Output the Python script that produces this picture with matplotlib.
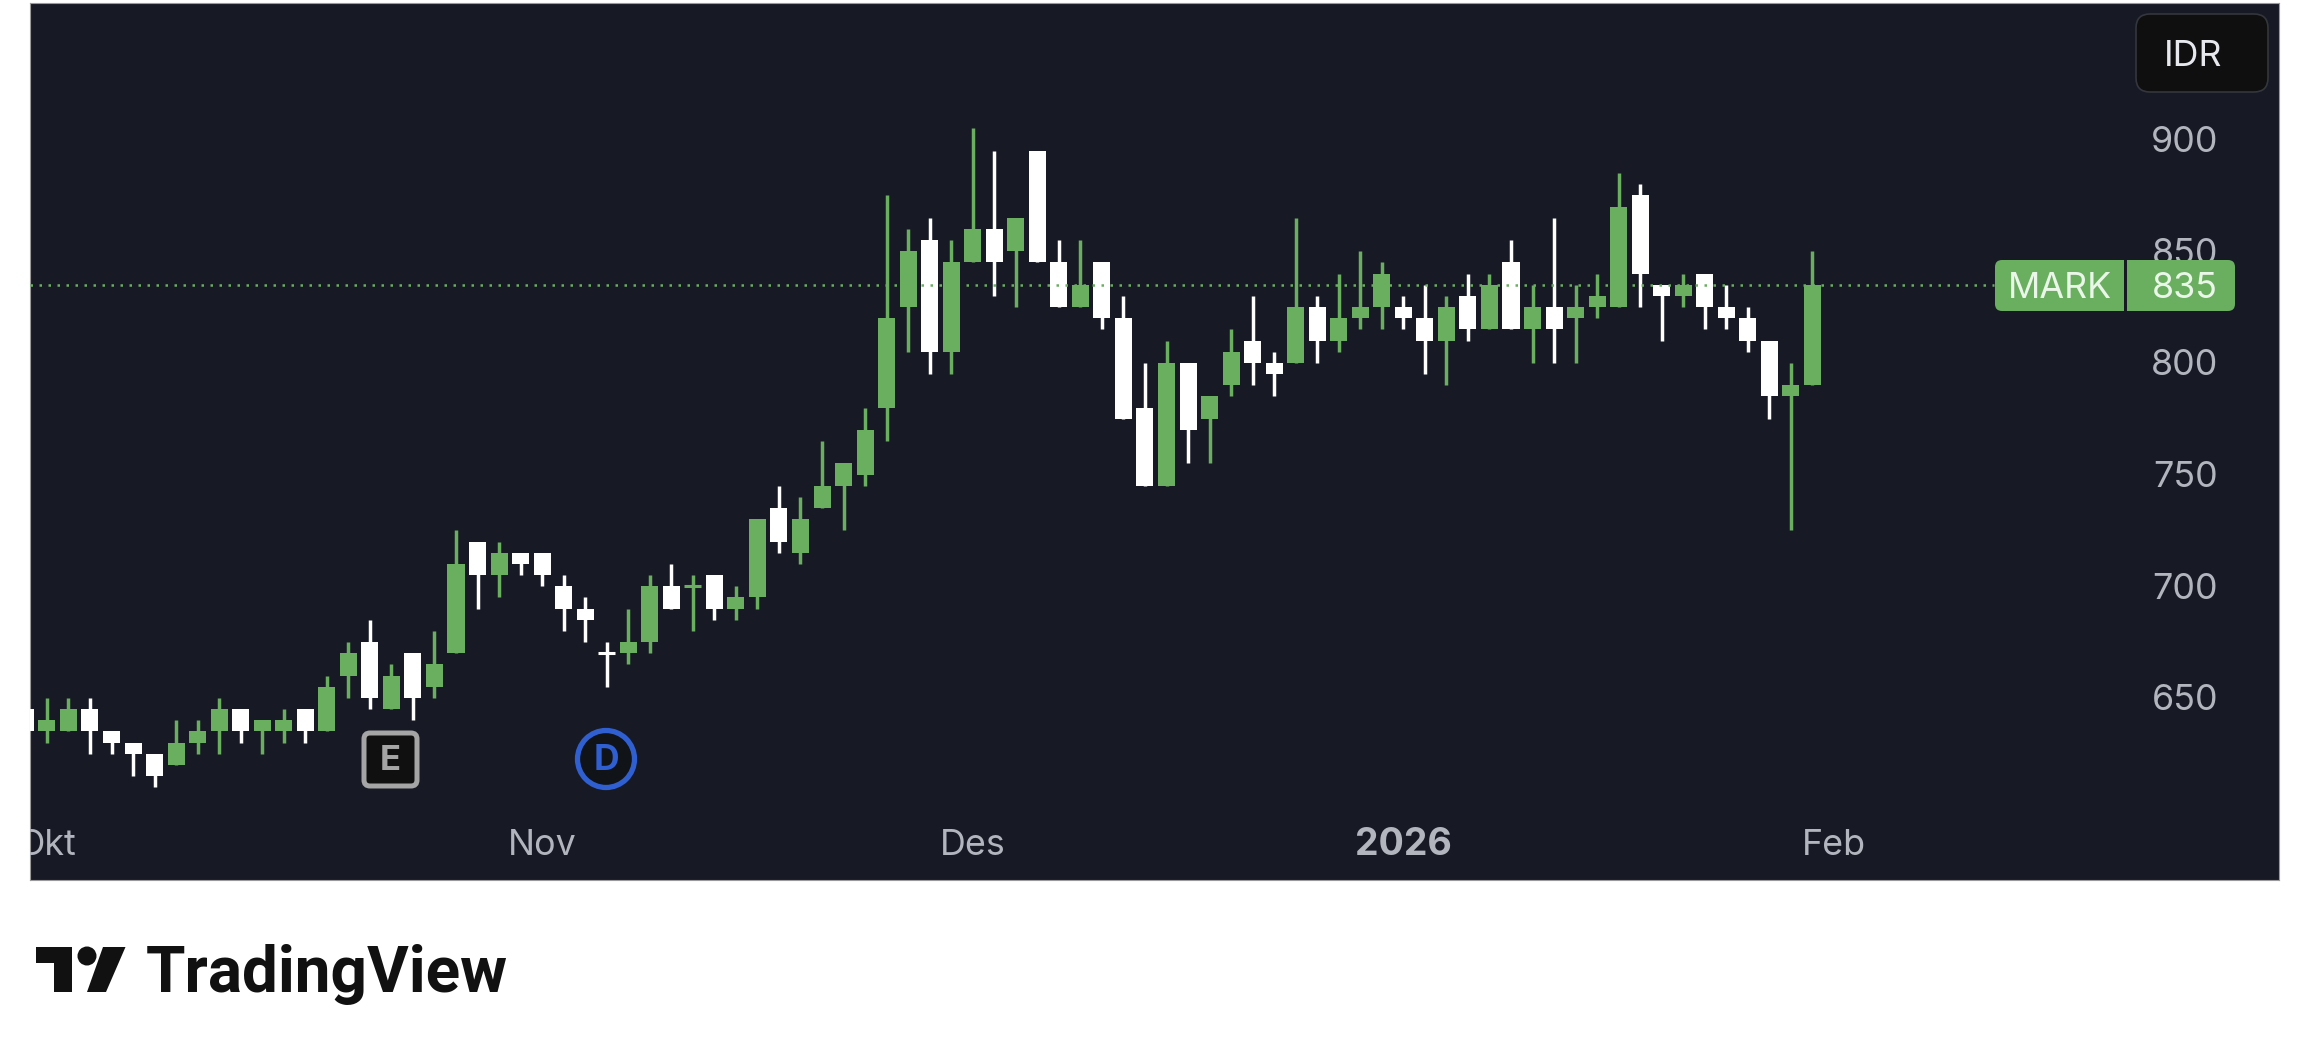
import numpy as np
from matplotlib import pyplot as plt
from matplotlib.patches import FancyBboxPatch, Circle, Polygon, Rectangle
from matplotlib.transforms import offset_copy

# daily candles, first one is cut off by the left edge
opens = [645, 635, 635, 645, 635, 630, 625, 620, 630, 635, 645, 635, 635, 645, 635, 660, 675, 645, 670, 655, 670,
         720, 705, 715, 715, 700, 690, 670, 670, 675, 700, 700, 705, 690, 695, 735, 715, 735, 745, 750, 780,
         825, 855, 805, 845, 860, 850, 895, 845, 825, 845, 820, 780, 745, 800, 775, 790, 810, 800, 800, 825,
         810, 820, 825, 825, 820, 810, 830, 815, 845, 815, 825, 820, 825, 825, 875, 835, 830, 840, 825, 820,
         810, 785, 790]
closes = [635, 640, 645, 635, 630, 625, 615, 630, 635, 645, 635, 640, 640, 635, 655, 670, 650, 660, 650, 665, 710,
          705, 715, 710, 705, 690, 685, 670, 675, 700, 690, 700, 690, 695, 730, 720, 730, 745, 755, 770, 820,
          850, 805, 845, 860, 845, 865, 845, 825, 835, 820, 775, 745, 800, 770, 785, 805, 800, 795, 825, 810,
          820, 825, 840, 820, 810, 825, 815, 835, 815, 825, 815, 825, 830, 870, 840, 830, 835, 825, 820, 810,
          785, 790, 835]
highs = [645, 650, 650, 650, 635, 630, 625, 640, 640, 650, 645, 640, 645, 645, 660, 675, 685, 665, 670, 680, 725,
         720, 720, 715, 715, 705, 695, 675, 690, 705, 710, 705, 705, 700, 730, 745, 740, 765, 755, 780, 875,
         860, 865, 855, 905, 895, 865, 895, 855, 855, 845, 830, 800, 810, 800, 785, 815, 830, 805, 865, 830,
         840, 850, 845, 830, 835, 830, 840, 840, 855, 835, 865, 835, 840, 885, 880, 835, 840, 840, 835, 825,
         810, 800, 850]
lows = [635, 630, 635, 625, 625, 615, 610, 620, 625, 625, 630, 625, 630, 630, 635, 650, 645, 645, 640, 650, 670,
        690, 695, 705, 700, 680, 675, 655, 665, 670, 690, 680, 685, 685, 690, 715, 710, 735, 725, 745, 765,
        805, 795, 795, 845, 830, 825, 845, 825, 825, 815, 775, 745, 745, 755, 755, 785, 790, 785, 800, 800,
        805, 815, 815, 815, 795, 790, 810, 815, 815, 800, 800, 800, 820, 825, 825, 810, 825, 815, 815, 805,
        775, 725, 790]
green_dojis = [31]

price_ticks = [650, 700, 750, 800, 850, 900]
time_ticks = [1, 24, 44, 64, 84]
time_labels = ['Okt', 'Nov', 'Des', '2026', 'Feb']
last_price = 835

BG = '#171A25'
GREEN = '#6AAE60'
GREY = '#B2B5BE'
plt.rcParams['font.family'] = ['Inter', 'DejaVu Sans']

W, H = 2310, 1061
fig = plt.figure(figsize=(W / 100, H / 100), dpi=100, facecolor='white')
left, right, top, bottom = 30, 2279, 3, 880
ax = fig.add_axes([left / W, 1 - bottom / H, (right - left) / W, (bottom - top) / H], facecolor=BG)
ax.set_xlim(0.214, 104.67)
ax.set_ylim(568.5, 961.1)
ax.set_xticks([])
ax.set_yticks([])
for s in ax.spines.values():
    s.set_color('#9A9A9A')
    s.set_linewidth(0.8)

x = np.arange(len(opens))
opens = np.array(opens)
closes = np.array(closes)
is_up = closes > opens
is_up[green_dojis] = True
colors = np.where(is_up, GREEN, 'white')

ax.vlines(x, lows, highs, colors=colors, linewidth=2.5, zorder=2)
ax.bar(x, closes - opens, bottom=opens, width=0.79, color=colors, linewidth=0, zorder=3)
flat = opens == closes
ax.hlines(opens[flat], x[flat] - 0.395, x[flat] + 0.395, colors=colors[flat], linewidth=2.2, zorder=3)

# price line stops at the tag
ax.plot([ax.get_xlim()[0], 91.45], [last_price, last_price], color=GREEN, linewidth=1.8,
        linestyle=(0, (1.0, 2.6)), zorder=4)

ytrans = offset_copy(ax.get_yaxis_transform(), fig, y=-3, units='dots')
for p in price_ticks:
    ax.text(0.973, p, str(p), transform=ytrans, ha='right', va='center',
            fontsize=25.8, color=GREY, zorder=5)

xtrans = offset_copy(ax.get_xaxis_transform(), fig, y=-3, units='dots')
for t, label in zip(time_ticks, time_labels):
    bold = label == '2026'
    ax.text(t, 0.0433, label, transform=xtrans, ha='center', va='center', fontsize=27 if bold else 25.8,
            color=GREY, clip_on=True, fontweight='bold' if bold else 'normal')

# pixel overlay for the tags, badges and logo
ov = fig.add_axes([0, 0, 1, 1], facecolor='none')
ov.set_xlim(0, W)
ov.set_ylim(H, 0)
ov.axis('off')

ov.add_patch(FancyBboxPatch((2146, 24), 112, 58, boxstyle='round,pad=10,rounding_size=14',
                            facecolor='#0F0F0F', edgecolor='#34363D', linewidth=1.2))
ov.text(2164, 57, 'IDR', ha='left', va='center', fontsize=25.8, color='#E6E8EE')

ov.add_patch(FancyBboxPatch((2002, 267), 115, 37, boxstyle='round,pad=7,rounding_size=7',
                            facecolor=GREEN, edgecolor='none'))
ov.add_patch(Rectangle((2060, 260), 64, 51, facecolor=GREEN, edgecolor='none'))
ov.add_patch(FancyBboxPatch((2134, 267), 94, 37, boxstyle='round,pad=7,rounding_size=7',
                            facecolor=GREEN, edgecolor='none'))
ov.add_patch(Rectangle((2127, 260), 40, 51, facecolor=GREEN, edgecolor='none'))
ov.text(2060, 288, 'MARK', ha='center', va='center', fontsize=25.8, color='#EAF6E8')
ov.text(2218, 288, str(last_price), ha='right', va='center', fontsize=25.8, color='#EAF6E8')

ov.add_patch(FancyBboxPatch((370, 739), 41, 41, boxstyle='round,pad=6,rounding_size=6',
                            facecolor='#101010', edgecolor='#A5A5A5', linewidth=3.6))
ov.text(390.5, 761, 'E', ha='center', va='center', fontsize=25, fontweight='bold', color='#A5A5A5')
ov.add_patch(Circle((606, 759), 28.5, facecolor='#101418', edgecolor='#2F5FD0', linewidth=3.8))
ov.text(606, 761, 'D', ha='center', va='center', fontsize=25.5, fontweight='bold', color='#2F5FD0')

LOGO = '#111111'
ov.add_patch(Polygon([(35.6, 947), (72, 947), (72, 992), (54, 992), (54, 963), (35.6, 963)], facecolor=LOGO, edgecolor='none'))
ov.add_patch(Circle((87, 956), 9.5, facecolor=LOGO, edgecolor='none'))
ov.add_patch(Polygon([(103, 947), (125.5, 947), (106, 992), (87, 992)], facecolor=LOGO, edgecolor='none'))
ov.text(146, 992, 'TradingView', ha='left', va='baseline', fontsize=46, fontweight='bold',
        family=['Roboto', 'DejaVu Sans'], color=LOGO)

fig.savefig('out.png', dpi=100)
